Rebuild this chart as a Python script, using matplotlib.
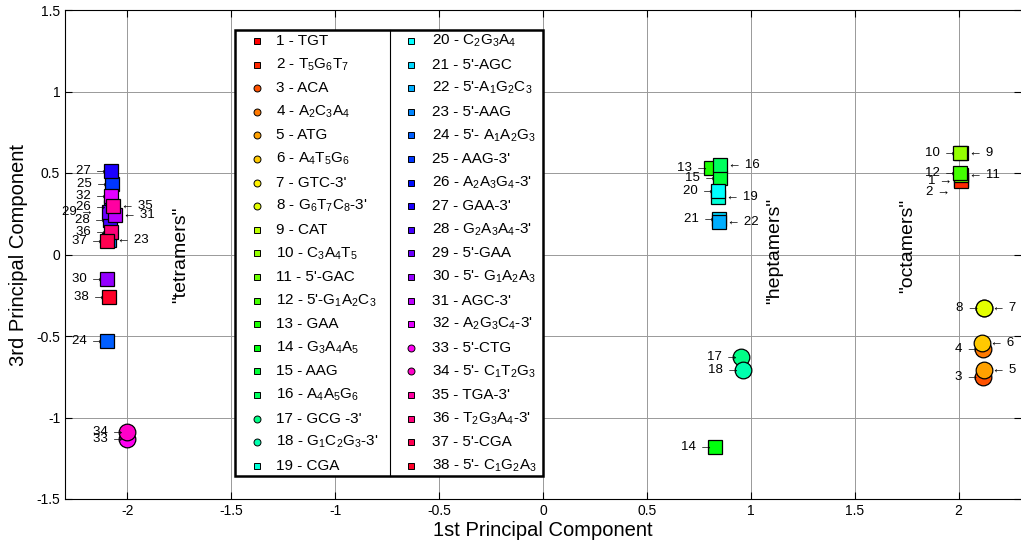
import colorsys
import matplotlib
matplotlib.use("Agg")
import matplotlib.pyplot as plt
from matplotlib.patches import Rectangle

plt.rcParams['font.family'] = ['Liberation Sans', 'DejaVu Sans']
plt.rcParams['mathtext.fontset'] = 'custom'
plt.rcParams['mathtext.rm'] = 'Liberation Sans'
plt.rcParams['mathtext.it'] = 'Liberation Sans:italic'
plt.rcParams['mathtext.bf'] = 'Liberation Sans:bold'
plt.rcParams['mathtext.default'] = 'regular'
plt.rcParams['axes.unicode_minus'] = False

# ---------------- data ----------------
ids = list(range(1, 39))
names = ["TGT", "T$_5$G$_6$T$_7$", "ACA", "A$_2$C$_3$A$_4$", "ATG", "A$_4$T$_5$G$_6$",
         "GTC-3'", "G$_6$T$_7$C$_8$-3'", "CAT", "C$_3$A$_4$T$_5$", "5'-GAC",
         "5'-G$_1$A$_2$C$_3$", "GAA", "G$_3$A$_4$A$_5$", "AAG", "A$_4$A$_5$G$_6$",
         "GCG -3'", "G$_1$C$_2$G$_3$-3'", "CGA", "C$_2$G$_3$A$_4$", "5'-AGC",
         "5'-A$_1$G$_2$C$_3$", "5'-AAG", "5'- A$_1$A$_2$G$_3$", "AAG-3'",
         "A$_2$A$_3$G$_4$-3'", "GAA-3'", "G$_2$A$_3$A$_4$-3'", "5'-GAA",
         "5'- G$_1$A$_2$A$_3$", "AGC-3'", "A$_2$G$_3$C$_4$-3'", "5'-CTG",
         "5'- C$_1$T$_2$G$_3$", "TGA-3'", "T$_2$G$_3$A$_4$-3'", "5'-CGA",
         "5'- C$_1$G$_2$A$_3$"]
markers = ['s', 's', 'o', 'o', 'o', 'o', 'o', 'o', 's', 's', 's', 's', 's', 's',
           's', 's', 'o', 'o', 's', 's', 's', 's', 's', 's', 's', 's', 's', 's',
           's', 's', 's', 's', 'o', 'o', 's', 's', 's', 's']
pc1 = [2.01, 2.01, 2.115, 2.115, 2.12, 2.11, 2.12, 2.12, 2.01, 2.005,
       2.01, 2.005, 0.81, 0.83, 0.85, 0.85, 0.955, 0.96, 0.84, 0.84,
       0.845, 0.845, -2.09, -2.10, -2.075, -2.08, -2.08, -2.085, -2.09, -2.10,
       -2.06, -2.08, -2.0, -2.0, -2.07, -2.08, -2.10, -2.09]
pc3 = [0.46, 0.45, -0.75, -0.58, -0.71, -0.54, -0.33, -0.33, 0.62, 0.62,
       0.49, 0.50, 0.53, -1.18, 0.47, 0.55, -0.63, -0.71, 0.35, 0.39,
       0.22, 0.20, 0.09, -0.53, 0.43, 0.29, 0.51, 0.21, 0.26, -0.15,
       0.24, 0.36, -1.13, -1.09, 0.30, 0.14, 0.08, -0.26]
# which side the number label is placed on
right_side = {35, 31, 23, 16, 19, 22, 9, 11, 7, 6, 5}
label_shift = {2: (-7, -11), 1: (-5, -1), 29: (-12, 0)}  # pixel shift of a few labels

groups = ['"tetramers"', '"heptamers"', '"octamers"']
group_x = [-1.745, 1.115, 1.755]
group_y = [0.0, 0.02, 0.05]

xticks = [-2, -1.5, -1, -0.5, 0, 0.5, 1, 1.5, 2]
yticks = [-1.5, -1, -0.5, 0, 0.5, 1, 1.5]

colors = [colorsys.hsv_to_rgb((i - 1) / 38.0, 1.0, 1.0) for i in ids]

# ---------------- figure ----------------
fig = plt.figure(figsize=(10.21, 5.42), dpi=100)
W, H = 1021, 542
ax = fig.add_axes([65 / W, (H - 499) / H, (W - 65) / W, 489 / H])

for i, n in enumerate(ids):
    ms = 12 if markers[i] == 'o' else 10.5
    ax.plot(pc1[i], pc3[i], marker=markers[i], ms=ms, mfc=colors[i],
            mec='black', mew=0.9, ls='none', zorder=3)

for i, n in enumerate(ids):
    sx, sy = label_shift.get(n, (0, 0))
    if n in right_side:
        ax.annotate(f"\u2190 {n}", (pc1[i], pc3[i]), xytext=(8 + sx, sy),
                    textcoords='offset pixels', ha='left', va='center',
                    fontsize=9.5, zorder=4)
    else:
        ax.annotate(f"{n} \u2192", (pc1[i], pc3[i]), xytext=(-3 + sx, sy),
                    textcoords='offset pixels', ha='right', va='center',
                    fontsize=9.5, zorder=4)

for g, gx, gy in zip(groups, group_x, group_y):
    ax.text(gx, gy, g, rotation=90, ha='center', va='center', fontsize=14)

ax.set_xlim(-2.3, 2.3)
ax.set_ylim(-1.5, 1.5)
ax.set_xticks(xticks)
ax.set_yticks(yticks)
ax.set_xticklabels([f"{t:g}" for t in xticks])
ax.set_yticklabels([f"{t:g}" for t in yticks])
ax.tick_params(direction='in', length=5, labelsize=10, top=True, right=True)
ax.grid(True, color='0.6', lw=0.7, zorder=0)
ax.set_axisbelow(True)
ax.spines['right'].set_visible(False)
ax.set_xlabel("1st Principal Component", fontsize=14.5, labelpad=2)
ax.set_ylabel("3rd Principal Component", fontsize=14.5, labelpad=6)

# ---------------- manual two-column legend ----------------
ax_w, ax_h = W - 65, 489
def axx(px):
    return (px - 65) / ax_w
def axy(py):
    return (499 - py) / ax_h

box = Rectangle((axx(235), axy(476)), axx(543) - axx(235), axy(30) - axy(476),
                transform=ax.transAxes, facecolor='white', edgecolor='black',
                lw=1.8, zorder=5)
ax.add_patch(box)
ax.plot([axx(390), axx(390)], [axy(476), axy(30)], transform=ax.transAxes,
        color='black', lw=0.8, zorder=6)
mark_x = [257, 411]
text_x = [276, 432]
for i, n in enumerate(ids):
    col, row = divmod(i, 19)
    yy = axy(41 + row * 23.6)
    ax.plot(axx(mark_x[col]), yy, marker=markers[i], ms=5, mfc=colors[i],
            mec='black', mew=0.7, ls='none', transform=ax.transAxes, zorder=7,
            clip_on=False)
    ax.text(axx(text_x[col]), yy, f"{n} - {names[i]}", transform=ax.transAxes,
            ha='left', va='center', fontsize=11, zorder=7)

fig.savefig("out.png", dpi=100)
